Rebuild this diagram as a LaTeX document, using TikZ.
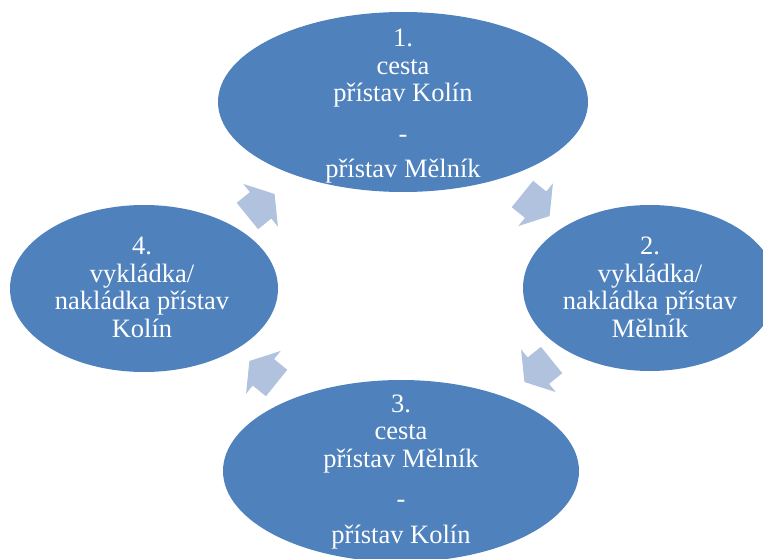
\documentclass[tikz,border=0pt]{standalone}
\usepackage{fontspec}
\setmainfont{Liberation Serif}
\usepackage{xcolor}
\usepackage{tikz}
\usetikzlibrary{shapes.geometric}

\definecolor{stageblue}{RGB}{79,129,189}
\definecolor{arrowblue}{RGB}{176,194,222}

\tikzset{
    stage/.style={ellipse, fill=stageblue, draw=none, inner sep=0pt},
    stagetext/.style={text=white, font=\fontsize{26.5}{27.5}\selectfont, align=center, inner sep=0pt, anchor=base},
    cyclearrow/.pic={
        \fill[arrowblue] (-17.5,-17) -- (-0.5,-17) -- (-0.5,-27.5) -- (17.5,0)
            -- (-0.5,27.5) -- (-0.5,17) -- (-17.5,17) -- cycle;
    }
}

\begin{document}
\begin{tikzpicture}[x=1pt,y=-1pt]
    % Page frame
    \clip (0,0) rectangle (763,559);

    % Stages of the cycle
    \node[stage, minimum width=370pt, minimum height=180pt] (e1) at (403,102) {};
    \node[stage, minimum width=254pt, minimum height=166pt] (e2) at (650,288) {};
    \node[stage, minimum width=356pt, minimum height=182pt] (e3) at (401,471) {};
    \node[stage, minimum width=268pt, minimum height=167pt] (e4) at (144,288.5) {};

    % Texts (placed at the baseline of their last line)
    \node[stagetext] (t1) at (403,178) {1.\\cesta\\přístav Kolín\\[13pt]-\\[8pt]přístav Mělník};
    \node[stagetext] (t2) at (650,337) {2.\\vykládka/\\nakládka přístav\\Mělník};
    \node[stagetext] (t3) at (401,543) {3.\\cesta\\přístav Mělník\\[13pt]-\\[8pt]přístav Kolín};
    \node[stagetext] (t4) at (142,337) {4.\\vykládka/\\nakládka přístav\\Kolín};

    % Arrows between the stages
    \pic[rotate=39] at (261,205) {cyclearrow};
    \pic[rotate=-39] at (536,205) {cyclearrow};
    \pic[rotate=-141] at (538,371) {cyclearrow};
    \pic[rotate=141] at (263,372) {cyclearrow};
\end{tikzpicture}
\end{document}
